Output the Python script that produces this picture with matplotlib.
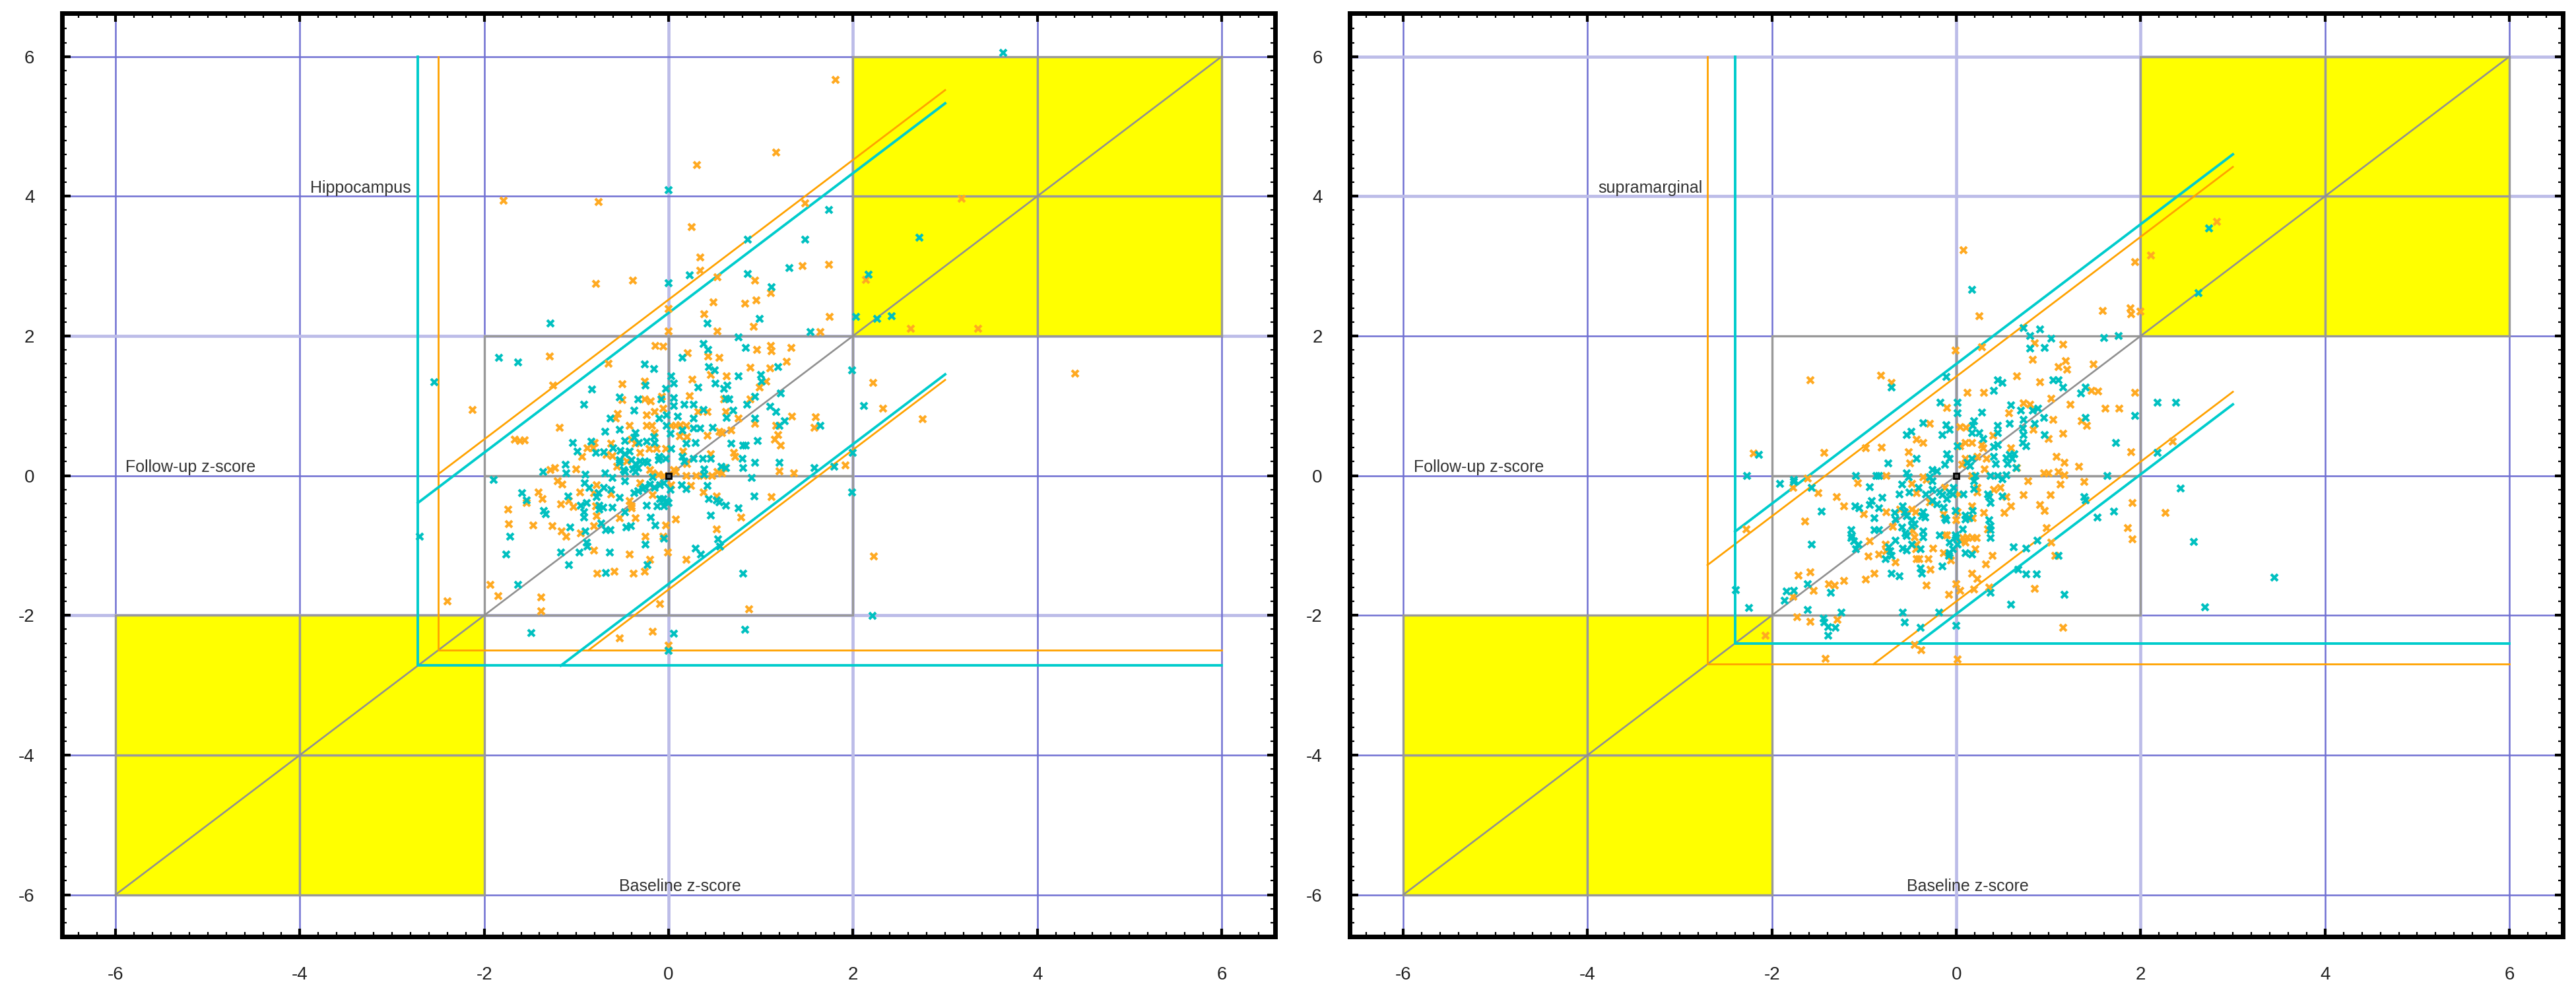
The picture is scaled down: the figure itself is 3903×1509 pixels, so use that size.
import matplotlib.pyplot as plt
import numpy as np
from matplotlib.patches import Rectangle
from matplotlib.ticker import MultipleLocator

plt.rcParams['font.family'] = ['Liberation Sans', 'DejaVu Sans']
plt.rcParams['axes.unicode_minus'] = False

# ---- data ----
ticks = [-6, -4, -2, 0, 2, 4, 6]
panel_titles = ["Hippocampus", "supramarginal"]

# band: (cut-off, upper offset, lower offset) for lines y = x + offset
hip_cyan_band = (-2.72, 2.33, -1.55)
hip_orange_band = (-2.50, 2.52, -1.63)
supra_cyan_band = (-2.40, 1.60, -1.98)
supra_orange_band = (-2.70, 1.42, -1.80)

# grid lines drawn light (lavender) instead of blue
hip_light_x = [0, 2]
hip_light_y = [-2, 2]
supra_light_x = [0, 2]
supra_light_y = [4, 6]

hip_orange = [
    (1.81, 5.67), (1.17, 4.63), (0.31, 4.45), (-1.79, 3.94), (-0.76, 3.92), (1.48, 3.90), (3.18, 3.97),
    (0.25, 3.56), (0.34, 3.12), (1.45, 3.00), (1.74, 3.02), (0.34, 2.94), (0.53, 2.84), (2.14, 2.80),
    (-0.79, 2.75), (-0.39, 2.79), (0.94, 2.79), (1.11, 2.61), (0.49, 2.48), (0.83, 2.46), (0.95, 2.51),
    (0.00, 2.39), (0.39, 2.31), (1.75, 2.27), (0.00, 2.07), (0.53, 2.07), (0.92, 2.13), (2.63, 2.10),
    (3.36, 2.10), (1.65, 2.06),
    (2.22, 1.33), (2.33, 0.96), (2.76, 0.81), (4.41, 1.46), (1.92, 0.15), (2.23, -1.16),
    (-0.14, 1.86), (-0.06, 1.85), (0.96, 1.80), (1.11, 1.86), (1.12, 1.78), (1.33, 1.83), (-1.29, 1.71),
    (0.21, 1.75), (0.43, 1.71), (0.55, 1.69), (1.28, 1.63), (-0.65, 1.60), (0.89, 1.55), (1.10, 1.54),
    (0.46, 1.44), (0.63, 1.42), (1.06, 1.35), (0.26, 1.38), (-0.26, 1.35), (-0.50, 1.31), (0.99, 1.26),
    (-1.25, 1.29), (-0.50, 1.08), (-0.26, 1.09), (-0.19, 1.06), (-0.07, 1.13), (0.23, 1.14), (0.60, 1.09),
    (0.89, 1.09), (-0.06, 0.96), (0.32, 0.91), (0.42, 0.91), (0.62, 0.91), (-0.55, 0.88), (-0.57, 0.82),
    (-0.24, 0.87), (-0.15, 0.91), (0.76, 0.82), (1.34, 0.85), (1.60, 0.84), (1.17, 0.71), (1.58, 0.69),
    (0.94, 0.74), (-1.18, 0.69), (-0.42, 0.71), (-0.24, 0.71), (-0.18, 0.71), (0.03, 0.71), (0.08, 0.71),
    (0.13, 0.72), (0.19, 0.71), (0.58, 0.61), (0.68, 0.65), (0.55, 0.63), (0.42, 0.57), (-0.15, 0.61),
    (0.12, 0.56), (0.20, 0.55), (1.19, 0.58), (1.15, 0.52), (-1.67, 0.52), (-1.61, 0.50), (-1.56, 0.51),
    (-0.80, 0.47), (-0.62, 0.46), (-0.40, 0.52), (-0.36, 0.46), (1.22, 0.43), (-0.94, 0.27), (-0.88, 0.39),
    (-0.82, 0.39), (-0.67, 0.30), (-0.61, 0.28), (-0.31, 0.33), (-0.45, 0.20), (-0.21, 0.38), (-0.13, 0.38),
    (-0.03, 0.38), (0.16, 0.35), (0.46, 0.31), (0.71, 0.33), (0.72, 0.27), (0.20, 0.17), (-1.23, 0.11),
    (-1.28, 0.08), (-1.00, 0.09), (-0.56, 0.13), (-0.20, 0.08), (-0.17, 0.03), (-0.11, 0.02), (-0.05, 0.00),
    (0.06, 0.08), (0.08, 0.05), (0.19, 0.00), (0.30, 0.00), (0.38, 0.00), (0.47, 0.00), (0.53, 0.05),
    (0.58, 0.03), (0.61, 0.11), (1.20, 0.06), (1.36, 0.03), (-1.20, -0.08), (-1.15, -0.13), (-0.78, -0.14),
    (-0.31, -0.11), (0.03, -0.14), (0.24, -0.15), (0.38, -0.24), (-1.54, -0.39), (-1.41, -0.24),
    (-1.37, -0.33), (-1.08, -0.36), (-0.96, -0.24), (-0.81, -0.25), (-0.62, -0.27), (-0.42, -0.36),
    (-0.40, -0.44), (-0.40, -0.47), (-0.17, -0.28), (0.52, -0.30), (1.12, -0.31), (-1.74, -0.49),
    (-1.17, -0.41), (-1.03, -0.45), (-0.79, -0.44), (-0.78, -0.58), (-0.53, -0.61), (-0.36, -0.61),
    (0.79, -0.60), (0.08, -0.63), (-1.73, -0.69), (-1.47, -0.71), (-1.26, -0.72), (-0.81, -0.72),
    (-0.03, -0.71), (-1.16, -0.80), (-1.11, -0.87), (-0.95, -0.83), (0.52, -0.77), (-0.25, -0.87),
    (-0.06, -0.87), (-0.81, -1.07), (-0.42, -1.13), (-0.01, -1.10), (-0.20, -1.20), (0.19, -1.20),
    (-0.77, -1.40), (-0.59, -1.37), (-0.38, -1.40), (-0.26, -1.37), (-1.93, -1.56), (-1.85, -1.72),
    (-1.38, -1.74), (-1.38, -1.94), (-0.09, -1.84), (0.87, -1.91),
    (-2.40, -1.80), (-0.53, -2.33), (-0.17, -2.23), (0.00, -2.43), (-2.13, 0.94),
]

hip_cyan = [
    (3.63, 6.05), (0.00, 4.09), (1.74, 3.80), (0.86, 3.38), (1.48, 3.38), (2.72, 3.41), (1.31, 2.97),
    (0.23, 2.87), (0.86, 2.89), (2.17, 2.88), (0.00, 2.76), (1.12, 2.70), (-1.28, 2.18), (0.42, 2.18),
    (0.99, 2.25), (2.03, 2.27), (2.26, 2.25), (2.42, 2.28), (1.54, 2.06),
    (1.99, 1.51), (2.12, 1.00), (2.00, 0.33), (1.99, -0.24), (2.21, -2.01),
    (0.76, 1.98), (0.38, 1.89), (0.43, 1.80), (0.84, 1.83), (-1.84, 1.69), (-1.63, 1.62), (0.15, 1.69),
    (-0.26, 1.59), (-0.16, 1.53), (0.44, 1.56), (0.50, 1.51), (1.19, 1.56), (0.76, 1.42), (1.00, 1.44),
    (1.01, 1.35), (0.03, 1.42), (0.06, 1.32), (-0.25, 1.29), (-0.83, 1.23), (-0.03, 1.24), (0.32, 1.26),
    (0.51, 1.32), (0.60, 1.24), (0.64, 1.29), (-0.53, 1.12), (-0.33, 1.09), (-0.08, 1.09), (0.06, 1.11),
    (0.62, 1.10), (0.66, 1.09), (0.94, 1.13), (1.22, 1.18), (-0.92, 1.02), (0.06, 1.00), (0.17, 1.02),
    (0.27, 1.02), (0.38, 0.94), (0.70, 0.93), (0.85, 1.02), (1.10, 0.99), (1.17, 0.91), (-0.37, 0.93),
    (-0.63, 0.82), (-0.10, 0.82), (-0.02, 0.87), (0.10, 0.85), (0.27, 0.82), (0.63, 0.83), (0.94, 0.82),
    (1.26, 0.78), (1.20, 0.71), (1.65, 0.71), (-0.53, 0.66), (-0.69, 0.63), (-0.02, 0.71), (0.15, 0.65),
    (0.27, 0.68), (0.34, 0.68), (0.48, 0.69), (-0.36, 0.61), (-0.37, 0.54), (0.02, 0.60), (0.97, 0.50),
    (-0.84, 0.49), (-0.47, 0.50), (-0.32, 0.47), (-0.24, 0.49), (-0.16, 0.55), (-0.15, 0.47), (0.19, 0.46),
    (0.29, 0.47), (0.68, 0.46), (0.81, 0.43), (0.84, 0.43), (-1.04, 0.47), (-0.99, 0.35), (-0.79, 0.33),
    (-0.70, 0.34), (-0.60, 0.39), (-0.52, 0.36), (-0.47, 0.31), (-0.42, 0.35), (-0.53, 0.22), (-0.53, 0.19),
    (-0.40, 0.22), (-0.36, 0.17), (-0.31, 0.20), (-0.26, 0.20), (-0.23, 0.19), (-0.10, 0.27), (-0.11, 0.22),
    (0.03, 0.38), (-0.03, 0.24), (0.15, 0.27), (0.17, 0.20), (0.27, 0.24), (0.37, 0.24), (0.46, 0.24),
    (0.80, 0.24), (0.94, 0.19), (1.20, 0.19), (-1.12, 0.16), (-1.36, 0.05), (-1.11, 0.03), (-0.90, 0.02),
    (-0.69, 0.03), (-0.61, -0.03), (-0.49, 0.08), (-0.47, 0.05), (-0.39, 0.09), (-0.36, 0.05), (-0.33, 0.11),
    (-0.17, -0.02), (0.39, 0.09), (0.39, 0.02), (0.57, 0.13), (0.62, 0.11), (0.81, 0.11), (0.90, -0.03),
    (1.58, 0.11), (1.80, 0.13), (-1.90, -0.06), (-0.91, -0.11), (-0.86, -0.17), (-0.70, -0.17),
    (-0.62, -0.20), (-0.47, -0.08), (-0.26, -0.16), (-0.20, -0.13), (-0.15, -0.17), (-0.09, -0.14),
    (-0.05, -0.11), (0.02, -0.20), (0.14, -0.14), (0.19, -0.19), (0.42, -0.15), (-1.59, -0.25),
    (-1.54, -0.35), (-1.09, -0.30), (-0.76, -0.25), (-0.78, -0.31), (-0.37, -0.25), (-0.33, -0.22),
    (-0.28, -0.19), (-0.53, -0.32), (-0.09, -0.33), (-0.06, -0.33), (-0.02, -0.36), (0.00, -0.39),
    (0.44, -0.33), (0.52, -0.35), (0.55, -0.38), (0.62, -0.43), (0.93, -0.30), (-1.35, -0.50),
    (-1.33, -0.55), (-0.95, -0.43), (-0.89, -0.39), (-0.92, -0.52), (-0.92, -0.60), (-0.75, -0.43),
    (-0.75, -0.49), (-0.71, -0.46), (-0.61, -0.46), (-0.47, -0.52), (-0.24, -0.43), (-0.12, -0.44),
    (-0.05, -0.44), (-0.19, -0.60), (0.76, -0.47), (0.46, -0.57), (-1.07, -0.74), (-0.73, -0.68),
    (-0.68, -0.78), (-0.63, -0.78), (-0.46, -0.74), (-0.41, -0.72), (-0.14, -0.71), (-0.90, -0.80),
    (-1.72, -0.87), (-0.05, -0.90), (-0.89, -0.96), (-0.88, -1.01), (-0.25, -0.99), (0.54, -0.91),
    (0.56, -1.01), (-1.76, -1.13), (-1.17, -1.10), (-0.97, -1.10), (-0.64, -1.10), (0.29, -1.04),
    (0.35, -1.13), (-0.23, -1.28), (-1.08, -1.28), (-0.68, -1.39), (0.81, -1.40), (-1.63, -1.56),
    (-1.49, -2.25), (0.06, -2.26), (0.83, -2.21), (0.00, -2.51), (-2.54, 1.34), (-2.70, -0.87),
]

supra_orange = [
    (2.83, 3.63), (0.08, 3.23), (1.94, 3.06), (2.11, 3.15), (0.25, 2.28), (1.59, 2.36), (1.89, 2.40),
    (1.90, 2.31), (2.00, 2.35),
    (-2.20, 0.32), (-2.28, -0.77), (-2.07, -2.29), (-1.42, -2.62), (-0.45, -2.42), (-0.38, -2.50),
    (0.01, -2.63), (2.35, 0.49), (2.27, -0.53),
    (0.85, 1.90), (1.16, 1.88), (-0.01, 1.79), (0.28, 1.84), (0.83, 1.66), (1.19, 1.64), (1.11, 1.56),
    (1.20, 1.52), (1.49, 1.59), (-1.58, 1.37), (-0.82, 1.43), (-0.70, 1.33), (0.66, 1.42), (0.91, 1.34),
    (0.12, 1.19), (0.30, 1.19), (1.47, 1.22), (1.54, 1.21), (1.94, 1.19), (1.03, 1.10), (-0.10, 0.97),
    (0.73, 1.04), (0.80, 1.02), (1.24, 1.02), (1.62, 0.96), (1.77, 0.96), (0.57, 0.89), (1.05, 0.80),
    (1.36, 0.78), (1.42, 0.71), (-0.29, 0.74), (0.04, 0.70), (0.11, 0.69), (0.84, 0.66), (1.00, 0.53),
    (1.16, 0.60), (-0.43, 0.52), (-0.36, 0.47), (0.40, 0.57), (0.10, 0.47), (0.17, 0.47), (-1.43, 0.33),
    (-0.98, 0.39), (-0.81, 0.40), (-0.52, 0.34), (0.04, 0.42), (0.28, 0.44), (0.29, 0.39), (0.59, 0.39),
    (1.09, 0.27), (1.90, 0.34), (-0.50, 0.18), (0.10, 0.24), (0.06, 0.16), (0.23, 0.27), (0.33, 0.24),
    (0.66, 0.11), (1.17, 0.19), (1.33, 0.13), (0.31, 0.09), (-0.76, 0.00), (-0.36, -0.02), (-0.32, -0.06),
    (0.17, 0.00), (0.95, 0.03), (1.00, 0.03), (1.11, 0.05), (1.17, 0.01), (-1.61, -0.04), (-1.77, -0.17),
    (-1.50, -0.25), (-1.07, -0.11), (-0.48, -0.12), (-0.43, -0.25), (-0.12, -0.17), (0.03, -0.27),
    (0.23, -0.24), (0.23, -0.17), (0.41, -0.20), (0.48, -0.17), (0.54, -0.31), (0.78, -0.08),
    (1.13, -0.13), (1.39, -0.09), (0.73, -0.28), (1.02, -0.28), (1.91, -0.39), (-1.30, -0.31),
    (-1.22, -0.44), (-0.61, -0.49), (-0.48, -0.49), (-0.44, -0.52), (-0.29, -0.38), (0.01, -0.52),
    (0.17, -0.44), (0.30, -0.53), (0.59, -0.44), (0.52, -0.53), (0.91, -0.42), (0.96, -0.50),
    (-1.64, -0.66), (-1.00, -0.55), (-0.76, -0.52), (-0.14, -0.55), (0.00, -0.64), (0.18, -0.61),
    (0.34, -0.77), (1.86, -0.75), (-0.69, -0.73), (-0.47, -0.79), (-0.45, -0.88), (-0.12, -0.85),
    (-0.10, -0.85), (0.07, -0.89), (0.12, -0.88), (0.18, -0.89), (0.22, -0.89), (1.91, -0.91),
    (0.98, -0.75), (1.03, -0.96), (-0.94, -0.94), (-0.77, -0.99), (-0.76, -1.08), (-0.43, -0.99),
    (-0.44, -1.05), (-0.25, -1.04), (0.04, -0.93), (0.10, -0.96), (0.21, -1.05), (1.07, -1.15),
    (0.39, -1.15), (-0.95, -1.16), (-0.84, -1.13), (-0.66, -1.24), (-0.43, -1.19), (-0.40, -1.19),
    (-0.30, -1.19), (-0.14, -1.11), (-0.06, -1.21), (0.32, -1.27), (-0.28, -1.35), (-0.89, -1.40),
    (-0.98, -1.49), (-1.71, -1.43), (-1.58, -1.38), (-1.22, -1.51), (-1.38, -1.55), (-1.32, -1.57),
    (-1.55, -1.65), (-1.77, -1.73), (0.17, -1.40), (0.23, -1.48), (-0.32, -1.57), (0.00, -1.55),
    (0.04, -1.65), (-0.08, -1.70), (0.19, -1.63), (0.36, -1.60), (0.85, -1.62), (-1.73, -2.03),
    (-1.58, -2.09), (-1.29, -2.06), (1.16, -2.18),
]

supra_cyan = [
    (2.74, 3.54), (0.17, 2.66), (2.63, 2.61), (0.73, 2.11), (0.91, 2.09), (-2.27, 0.00), (-2.39, -1.64),
    (-2.25, -1.89), (2.18, 1.05), (2.38, 1.05), (2.18, 0.33), (2.43, -0.18), (2.58, -0.95), (3.45, -1.46),
    (2.70, -1.88), (-1.39, -2.29),
    (0.80, 2.00), (1.03, 1.96), (1.60, 1.97), (1.76, 2.00), (0.80, 1.82), (0.96, 1.83), (-0.70, 1.26),
    (-0.11, 1.41), (0.45, 1.37), (0.50, 1.33), (0.41, 1.22), (1.05, 1.37), (1.11, 1.37), (1.16, 1.26),
    (1.35, 1.18), (1.40, 1.26), (-0.17, 1.05), (0.01, 1.05), (0.59, 1.01), (0.01, 0.89), (0.28, 0.90),
    (0.70, 0.93), (0.83, 0.93), (0.89, 0.96), (0.73, 0.80), (0.95, 0.83), (0.85, 0.74), (1.40, 0.83),
    (1.94, 0.86), (-0.36, 0.75), (-0.11, 0.72), (-0.07, 0.66), (0.19, 0.78), (0.18, 0.71), (0.45, 0.71),
    (0.58, 0.74), (0.72, 0.68), (0.73, 0.58), (0.96, 0.58), (-0.54, 0.58), (-0.49, 0.63), (-0.15, 0.58),
    (0.17, 0.61), (0.25, 0.61), (0.29, 0.53), (0.45, 0.61), (0.72, 0.47), (0.76, 0.42), (1.73, 0.47),
    (0.01, 0.42), (0.41, 0.41), (0.45, 0.44), (0.58, 0.30), (0.61, 0.24), (0.63, 0.31), (-2.14, 0.30),
    (-0.74, 0.18), (-0.43, 0.24), (-0.10, 0.31), (-0.07, 0.24), (-0.12, 0.16), (0.12, 0.19), (0.17, 0.24),
    (0.15, 0.14), (0.41, 0.27), (0.43, 0.17), (0.54, 0.25), (0.56, 0.17), (0.65, 0.11), (-0.26, 0.08),
    (-0.21, 0.06), (-0.29, -0.02), (-0.54, 0.03), (-0.52, -0.02), (-1.09, 0.00), (-0.87, 0.00),
    (-0.84, 0.00), (-0.26, -0.08), (0.21, 0.00), (0.19, -0.08), (0.37, 0.00), (0.45, 0.00), (0.54, 0.01),
    (0.50, -0.05), (1.64, 0.00), (-1.91, -0.12), (-1.76, -0.06), (-1.76, -0.09), (-1.57, -0.17),
    (-0.94, -0.16), (-0.59, -0.13), (-0.51, -0.24), (-0.62, -0.27), (-0.41, -0.17), (-0.33, -0.27),
    (-0.26, -0.20), (-0.18, -0.24), (-0.07, -0.24), (-0.03, -0.17), (-0.15, -0.28), (-0.10, -0.33),
    (-0.04, -0.27), (0.08, -0.27), (0.19, -0.19), (0.34, -0.27), (0.36, -0.31), (0.37, -0.39),
    (0.50, -0.30), (1.39, -0.31), (1.40, -0.35), (-0.80, -0.32), (-1.10, -0.44), (-1.05, -0.47),
    (-0.92, -0.36), (-0.94, -0.42), (-0.84, -0.47), (-0.58, -0.44), (-0.56, -0.52), (-0.54, -0.58),
    (-0.36, -0.52), (-0.34, -0.60), (-0.26, -0.36), (-0.21, -0.41), (-0.14, -0.46), (-0.01, -0.50),
    (0.18, -0.50), (0.10, -0.57), (1.53, -0.60), (1.71, -0.51), (-1.46, -0.51), (-0.89, -0.61),
    (-0.67, -0.53), (-0.66, -0.63), (-0.48, -0.64), (-0.45, -0.69), (-0.48, -0.72), (-0.37, -0.58),
    (-0.12, -0.61), (-0.11, -0.64), (0.10, -0.63), (0.14, -0.61), (0.36, -0.64), (0.37, -0.72),
    (0.37, -0.78), (-1.14, -0.78), (-1.13, -0.86), (-1.14, -0.89), (-0.89, -0.78), (-0.84, -0.78),
    (-0.59, -0.74), (-0.55, -0.83), (-0.54, -0.86), (-0.36, -0.80), (-0.36, -0.88), (-0.18, -0.85),
    (-0.01, -0.85), (0.00, -0.89), (0.07, -0.77), (0.37, -0.89), (0.88, -0.93), (-1.57, -0.99),
    (-1.11, -0.94), (-1.06, -0.99), (-1.09, -1.05), (-0.73, -1.02), (-0.66, -0.93), (-0.72, -1.08),
    (-0.70, -1.15), (-0.58, -1.04), (-0.54, -1.07), (-0.48, -0.99), (-0.39, -1.05), (-0.07, -0.96),
    (-0.04, -1.05), (0.01, -0.99), (-0.07, -1.11), (0.10, -1.11), (0.17, -1.13), (0.62, -1.02),
    (0.76, -1.04), (1.11, -1.15), (-0.77, -1.19), (-0.08, -1.15), (-0.15, -1.30), (-0.39, -1.33),
    (-0.37, -1.40), (-0.70, -1.40), (-0.62, -1.44), (-1.61, -1.55), (-1.84, -1.66), (-1.76, -1.65),
    (-1.86, -1.79), (-1.36, -1.68), (0.67, -1.35), (0.76, -1.41), (0.87, -1.41), (0.37, -1.68),
    (1.17, -1.70), (0.59, -1.85), (-1.61, -1.92), (-1.25, -1.96), (-0.58, -1.96), (-0.19, -1.96),
    (-1.44, -2.04), (-1.43, -2.10), (-1.39, -2.17), (-1.31, -2.18), (-0.56, -2.10), (-0.39, -2.18),
    (0.00, -2.15),
]

# ---- styling ----
BLUE = '#7070d2'
LAVENDER = '#bcbce8'
GRAY = '#999999'
CYAN = '#00cccc'
ORANGE = '#ffa200'
PT_ORANGE = '#ffaa22'
PT_CYAN = '#00c0c0'


def draw_panel(ax, title, orange_pts, cyan_pts, orange_band, cyan_band, light_x, light_y):
    ax.set_xlim(-6.58, 6.58)
    ax.set_ylim(-6.6, 6.62)

    # background grid every 2 units
    for v in ticks:
        if v in light_x:
            ax.axvline(v, color=LAVENDER, lw=3.4, zorder=1)
        else:
            ax.axvline(v, color=BLUE, lw=1.8, zorder=1)
        if v in light_y:
            ax.axhline(v, color=LAVENDER, lw=3.4, zorder=1)
        else:
            ax.axhline(v, color=BLUE, lw=1.8, zorder=1)

    # central gray cells and yellow corner cells
    for cx in (-2, 0):
        for cy in (-2, 0):
            ax.add_patch(Rectangle((cx, cy), 2, 2, facecolor='none', edgecolor=GRAY, lw=2.4, zorder=2))
    for cx in (-6, -4):
        for cy in (-6, -4):
            ax.add_patch(Rectangle((cx, cy), 2, 2, facecolor='#ffff00', edgecolor=GRAY, lw=2.4, zorder=2))
    for cx in (2, 4):
        for cy in (2, 4):
            ax.add_patch(Rectangle((cx, cy), 2, 2, facecolor='#ffff00', edgecolor=GRAY, lw=2.4, zorder=2))

    ax.plot([-6, 6], [-6, 6], color='#909090', lw=1.9, zorder=3)

    # change bands
    for band, col, lw in ((orange_band, ORANGE, 2.0), (cyan_band, CYAN, 2.8)):
        cut, up, low = band
        ax.plot([cut, cut, 6], [6, cut, cut], color=col, lw=lw, zorder=4)
        ax.plot([cut, 3], [cut + up, 3 + up], color=col, lw=lw, zorder=4)
        ax.plot([cut - low, 3], [cut, 3 + low], color=col, lw=lw, zorder=4)

    ox, oy = zip(*orange_pts)
    cx_, cy_ = zip(*cyan_pts)
    ax.plot(ox, oy, ls='none', marker='x', ms=7, mew=3.0, color=PT_ORANGE, zorder=5)
    ax.plot(cx_, cy_, ls='none', marker='x', ms=7, mew=3.0, color=PT_CYAN, zorder=5)
    ax.plot([0], [0], ls='none', marker='s', ms=6, mfc='#555555', mec='black', mew=2, zorder=6)

    ax.text(-3.89, 4.05, title, fontsize=18, color='#333333', va='baseline', zorder=7)
    ax.text(-5.89, 0.05, 'Follow-up z-score', fontsize=18, color='#333333', va='baseline', zorder=7)
    ax.text(-0.54, -5.95, 'Baseline z-score', fontsize=18, color='#333333', va='baseline', zorder=7)

    ax.set_xticks(ticks)
    ax.set_yticks(ticks)
    ax.xaxis.set_minor_locator(MultipleLocator(0.2))
    ax.yaxis.set_minor_locator(MultipleLocator(0.2))
    ax.tick_params(which='both', direction='in', top=True, right=True, colors='black')
    ax.tick_params(which='major', length=9, width=3, labelsize=20, labelcolor='#222222')
    ax.tick_params(axis='x', which='major', pad=32)
    ax.tick_params(axis='y', which='major', pad=30)
    ax.tick_params(which='minor', length=5, width=1.6)
    for sp in ax.spines.values():
        sp.set_linewidth(5)
        sp.set_zorder(8)


fig = plt.figure(figsize=(39.03, 15.09), dpi=100)
ax1 = fig.add_axes([0.0241, 0.0596, 0.4709, 0.9271])
ax2 = fig.add_axes([0.5240, 0.0596, 0.4709, 0.9271])

draw_panel(ax1, panel_titles[0], hip_orange, hip_cyan, hip_orange_band, hip_cyan_band,
           hip_light_x, hip_light_y)
draw_panel(ax2, panel_titles[1], supra_orange, supra_cyan, supra_orange_band, supra_cyan_band,
           supra_light_x, supra_light_y)

fig.savefig('out.png', dpi=100)
